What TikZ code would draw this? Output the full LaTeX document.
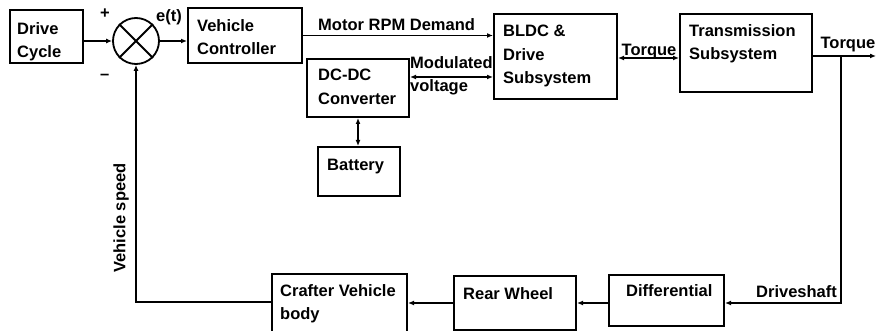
\documentclass[tikz,border=0pt]{standalone}
\usepackage{fontspec}
\setmainfont{Liberation Sans}
\usetikzlibrary{arrows.meta,calc}
\begin{document}
\begin{tikzpicture}[x=1pt,y=-1pt,
  box/.style={draw,line width=2pt,inner sep=0pt},
  lbl/.style={inner sep=0pt,font=\fontsize{16.5}{23.5}\selectfont\bfseries,align=left},
  arr/.style={line width=1.6pt,-{Latex[length=6pt,width=5pt]}},
  darr/.style={line width=1.6pt,{Latex[length=6pt,width=5pt]}-{Latex[length=6pt,width=5pt]}},
  ln/.style={line width=1.6pt}]
\fill[white] (0,0) rectangle (876,331);
\useasboundingbox (0,0) rectangle (876,331);

% blocks
\node[box,minimum width=73pt,minimum height=53pt] (dc) at (46.5,36.5) {};
\node[box,circle,minimum size=46pt,line width=1.8pt] (sum) at (136,41) {};
\draw[line width=1.8pt] (sum.north west) -- (sum.south east) (sum.north east) -- (sum.south west);
\node[box,minimum width=114pt,minimum height=55pt] (vc) at (245,35.5) {};
\node[box,minimum width=102pt,minimum height=58pt] (dcdc) at (358,88) {};
\node[box,minimum width=82pt,minimum height=49pt] (bat) at (359,171.5) {};
\node[box,minimum width=123pt,minimum height=85pt] (bldc) at (555.5,56.5) {};
\node[box,minimum width=132pt,minimum height=78pt] (trans) at (746,53) {};
\node[box,minimum width=115pt,minimum height=51pt] (diff) at (666.5,300.5) {};
\node[box,minimum width=122pt,minimum height=54pt] (rear) at (515,303) {};
\node[box,minimum width=135pt,minimum height=60pt] (craft) at (339.5,304) {};

% block texts
\node[lbl,anchor=north west] (tdc) at (17,22) {Drive\\Cycle};
\node[lbl,anchor=north west] (tvc) at (197,19) {Vehicle\\Controller};
\node[lbl,anchor=north west] (tdcdc) at (318,69) {DC-DC\\Converter};
\node[lbl,anchor=base west] (tbat) at (327,171) {Battery};
\node[lbl,anchor=north west] (tbldc) at (503,25) {BLDC \&\\Drive\\Subsystem};
\node[lbl,anchor=north west] (ttrans) at (689,24) {Transmission\\Subsystem};
\node[lbl,anchor=base west] (tdiff) at (626,297) {Differential};
\node[lbl,anchor=base west] (trear) at (463,299) {Rear Wheel};
\node[lbl,anchor=north west] (tcraft) at (280,284) {Crafter Vehicle\\body};

% signal labels
\node[lbl,anchor=base west] (lplus) at (100,19) {+};
\node[lbl,anchor=base west] (lminus) at (100,80) {–};
\node[lbl,anchor=base west] (le) at (156,22) {e(t)};
\node[lbl,anchor=base west] (lrpm) at (318,31) {Motor RPM Demand};
\node[lbl,anchor=north west] (lmod) at (410,56) {Modulated\\voltage};
\node[lbl,anchor=base] (ltq1) at (649,56) {Torque};
\node[lbl,anchor=base east] (ltq2) at (875.5,49) {Torque};
\node[lbl,anchor=base west] (ldrive) at (756,298) {Driveshaft};
\node[lbl,anchor=center,rotate=90] (lspeed) at (121,218) {Vehicle speed};

% connectors
\coordinate (out) at (876,56);
\coordinate (tap) at (841,56);
\draw[arr] (dc.east |- sum) -- (sum.west);
\draw[arr] (sum.east) -- (sum.east -| vc.west);
\draw[arr] (vc.east) -- (vc.east -| bldc.west);
\draw[darr] ([yshift=11pt]dcdc.east) -- ([yshift=11pt]dcdc.east -| bldc.west);
\draw[darr] (dcdc.south) -- (dcdc.south |- bat.north);
\draw[darr] ([yshift=-1.5pt]bldc.east) -- ([yshift=-1.5pt]bldc.east -| trans.west);
\draw[arr] ([yshift=-3pt]trans.east) -- (out);
\draw[arr] (tap) |- ([yshift=-2.5pt]diff.east);
\draw[arr] (diff.west |- rear.east) -- (rear.east);
\draw[arr] (rear.west) -- (rear.west -| craft.east);
\draw[arr] ([yshift=2pt]craft.west) -| (sum.south);
\end{tikzpicture}
\end{document}
